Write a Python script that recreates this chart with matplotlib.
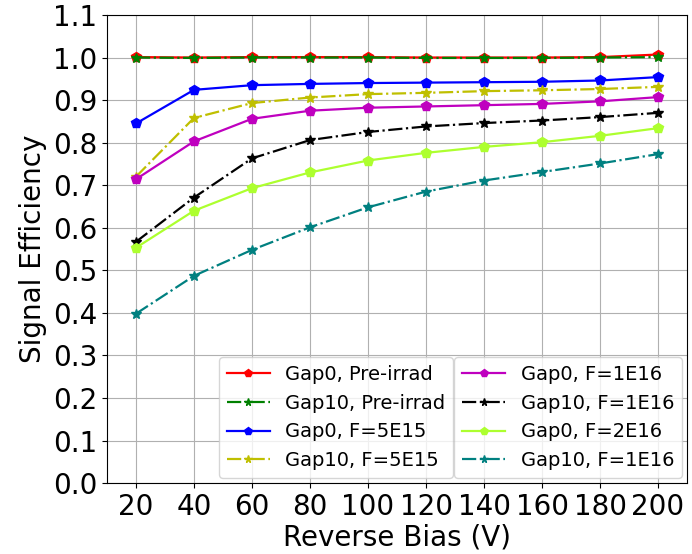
import matplotlib

matplotlib.use("Agg")
import matplotlib.pyplot as plt

bias = [20, 40, 60, 80, 100, 120, 140, 160, 180, 200]

gap0_pre = [1.001, 1.000, 1.001, 1.001, 1.001, 1.000, 1.000, 1.000, 1.001, 1.007]
gap10_pre = [1.000, 0.999, 1.000, 1.000, 1.000, 0.999, 0.999, 0.999, 1.000, 1.001]
gap0_5e15 = [0.845, 0.924, 0.935, 0.938, 0.940, 0.941, 0.942, 0.943, 0.946, 0.954]
gap10_5e15 = [0.720, 0.858, 0.893, 0.906, 0.914, 0.917, 0.921, 0.923, 0.926, 0.931]
gap0_1e16 = [0.714, 0.803, 0.856, 0.875, 0.882, 0.885, 0.888, 0.891, 0.897, 0.907]
gap10_1e16 = [0.567, 0.671, 0.763, 0.806, 0.825, 0.838, 0.846, 0.852, 0.860, 0.870]
gap0_2e16 = [0.553, 0.640, 0.693, 0.730, 0.758, 0.776, 0.790, 0.801, 0.816, 0.834]
gap10_2e16 = [0.398, 0.487, 0.548, 0.601, 0.648, 0.685, 0.711, 0.731, 0.751, 0.773]

fig = plt.figure(figsize=(6.92, 5.54), dpi=100)
ax = fig.add_axes([0.1546, 0.128, 0.8382, 0.845])

kw = dict(lw=1.6, ms=7)
l1, = ax.plot(bias, gap0_pre, "p-", color="red", label="Gap0, Pre-irrad", **kw)
l2, = ax.plot(bias, gap10_pre, "*-.", color="green", label="Gap10, Pre-irrad", **kw)
l3, = ax.plot(bias, gap0_5e15, "p-", color="blue", label="Gap0, F=5E15", **kw)
l4, = ax.plot(bias, gap10_5e15, "*-.", color="y", label="Gap10, F=5E15", **kw)
l5, = ax.plot(bias, gap0_1e16, "p-", color="m", label="Gap0, F=1E16", **kw)
l6, = ax.plot(bias, gap10_1e16, "*-.", color="k", label="Gap10, F=1E16", **kw)
l7, = ax.plot(bias, gap0_2e16, "p-", color="greenyellow", label="Gap0, F=2E16", **kw)
l8, = ax.plot(bias, gap10_2e16, "*-.", color="teal", label="Gap10, F=1E16", **kw)

ax.set_ylim(0, 1.1)
ax.set_xlim(10, 210)
ax.set_xticks(bias)
ax.set_yticks([i / 10 for i in range(12)])
ax.tick_params(labelsize=20)
ax.set_xlabel("Reverse Bias (V)", fontsize=20, labelpad=2)
ax.set_ylabel("Signal Efficiency", fontsize=20)
ax.grid(True)

# two legend boxes side by side in the lower right
leg_kw = dict(fontsize=14, loc="lower right", borderaxespad=0, handlelength=2.2,
              markerscale=0.8)
leg1 = ax.legend(handles=[l1, l2, l3, l4], bbox_to_anchor=(0.597, 0.011), **leg_kw)
ax.add_artist(leg1)
ax.legend(handles=[l5, l6, l7, l8], bbox_to_anchor=(0.991, 0.011), **leg_kw)

fig.savefig("out.png", dpi=100)
